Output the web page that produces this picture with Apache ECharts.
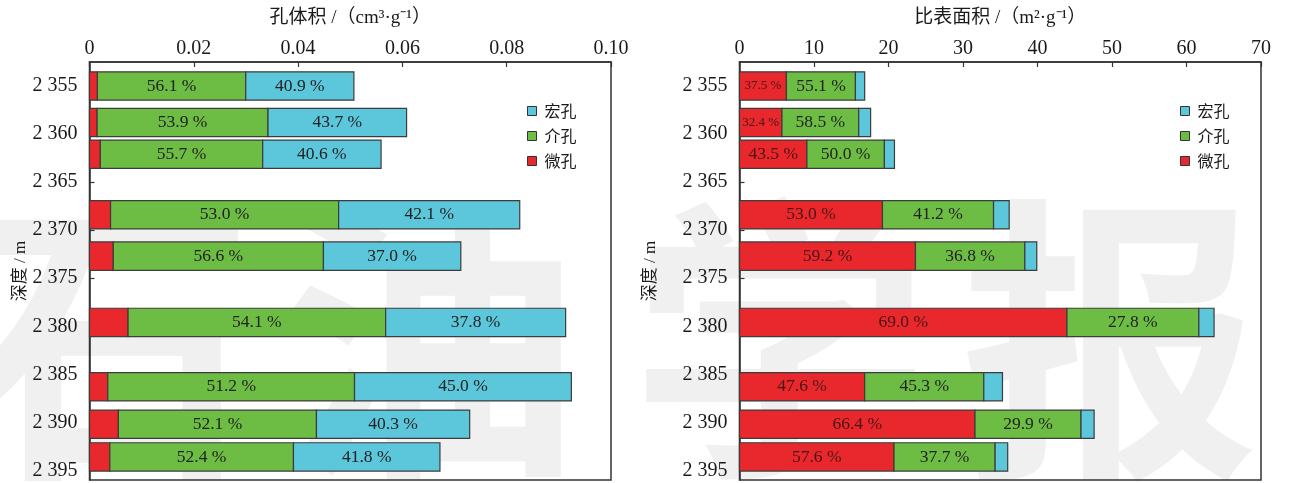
<!DOCTYPE html>
<html>
<head>
<meta charset="utf-8">
<script src="https://cdn.jsdelivr.net/npm/echarts@6/dist/echarts.min.js"></script>
<style>html,body{margin:0;padding:0;background:#fff;}#c{width:1290px;height:483px;}</style>
</head>
<body>
<div id="c"></div>
<script>
// Depths (m) of each sample bar
const depths = [2355, 2358.8, 2362.1, 2368.4, 2372.7, 2379.6, 2386.3, 2390.2, 2393.6];
const depthTicks = [2355, 2360, 2365, 2370, 2375, 2380, 2385, 2390, 2395];
const seriesNames = ['微孔', '介孔', '宏孔'];
const legendNames = ['宏孔', '介孔', '微孔'];

// Pore volume (cm3/g) segments
const volMicro = [0.00152, 0.00146, 0.00207, 0.00404, 0.00456, 0.00740, 0.00351, 0.00554, 0.00390];
const volMeso  = [0.02844, 0.03277, 0.03114, 0.04373, 0.04030, 0.04939, 0.04731, 0.03798, 0.03521];
const volMacro = [0.02074, 0.02657, 0.02270, 0.03473, 0.02634, 0.03451, 0.04158, 0.02938, 0.02809];
const volMesoPct  = ['56.1', '53.9', '55.7', '53.0', '56.6', '54.1', '51.2', '52.1', '52.4'];
const volMacroPct = ['40.9', '43.7', '40.6', '42.1', '37.0', '37.8', '45.0', '40.3', '41.8'];

// Specific surface area (m2/g) segments
const areaMicro = [6.30, 5.70, 9.05, 19.19, 23.62, 43.95, 16.80, 31.61, 20.74];
const areaMeso  = [9.26, 10.30, 10.40, 14.91, 14.68, 17.71, 15.99, 14.23, 13.57];
const areaMacro = [1.24, 1.60, 1.35, 2.10, 1.60, 2.04, 2.51, 1.76, 1.69];
const areaMicroPct = ['37.5', '32.4', '43.5', '53.0', '59.2', '69.0', '47.6', '66.4', '57.6'];
const areaMesoPct  = ['55.1', '58.5', '50.0', '41.2', '36.8', '27.8', '45.3', '29.9', '37.7'];

const colors = {'微孔': '#e8282c', '介孔': '#6dbd45', '宏孔': '#5cc6da'};
const labelColors = {'微孔': '#4a1414', '介孔': '#222222', '宏孔': '#222222'};
const serif = '"Liberation Serif", "Noto Sans CJK SC", serif';
const BAR_H = 2.95;

function buildSeries(gridIdx, segs, labels) {
  const out = [];
  let starts = depths.map(() => 0);
  segs.forEach((seg, si) => {
    const name = seriesNames[si];
    const data = seg.map((v, i) => {
      const s = starts[i];
      starts[i] = s + v;
      return [s, s + v, depths[i], labels[si] ? labels[si][i] + ' %' : ''];
    });
    out.push({
      type: 'custom',
      name: name,
      xAxisIndex: gridIdx,
      yAxisIndex: gridIdx,
      itemStyle: {color: colors[name]},
      encode: {x: [0, 1], y: 2},
      data: data,
      renderItem: function (params, api) {
        const s = api.value(0), e = api.value(1), d = api.value(2);
        const p0 = api.coord([s, d]);
        const p1 = api.coord([e, d]);
        const h = api.size([0, BAR_H])[1];
        const w = p1[0] - p0[0];
        const txt = data[params.dataIndex][3];
        const fs = w < 60 ? 13 : 17.5;
        return {
          type: 'rect',
          shape: {x: p0[0], y: p0[1] - h / 2, width: w, height: h},
          style: {fill: colors[name], stroke: '#3c3c3c', lineWidth: 1.2},
          textContent: txt ? {
            style: {text: txt, fill: labelColors[name], fontSize: fs, fontFamily: serif}
          } : undefined,
          textConfig: {position: 'inside'}
        };
      }
    });
  });
  return out;
}

const gridTop = 62;
const gridH = 418;
const gridW = 521.5;
const lefts = [89.5, 739.5];

function xAxisFor(idx, max, interval, fmt, title) {
  return {
    type: 'value', gridIndex: idx, position: 'top', min: 0, max: max, interval: interval,
    name: title, nameLocation: 'middle', nameGap: 34,
    nameTextStyle: {fontSize: 19, color: '#1a1a1a', fontFamily: serif},
    axisLine: {show: true, onZero: false, lineStyle: {color: '#333', width: 1.5}},
    axisTick: {show: true, inside: true, length: 5, lineStyle: {color: '#333', width: 1.2}},
    axisLabel: {fontSize: 20, color: '#1a1a1a', fontFamily: serif, margin: 3, formatter: fmt},
    splitLine: {show: false}
  };
}
function yAxisFor(idx, gap) {
  return {
    type: 'value', gridIndex: idx, inverse: true, min: 2352.5, max: 2396,
    name: '深度 / m', nameLocation: 'middle', nameGap: gap, nameRotate: 90,
    nameTextStyle: {fontSize: 17, color: '#1a1a1a', fontFamily: serif},
    axisLine: {show: true, onZero: false, lineStyle: {color: '#333', width: 1.5}},
    axisTick: {show: true, inside: true, length: 5, customValues: depthTicks, lineStyle: {color: '#333', width: 1.2}},
    axisLabel: {fontSize: 20, color: '#1a1a1a', fontFamily: serif, margin: 12, customValues: depthTicks,
      formatter: v => { const s = String(Math.round(v)); return s[0] + ' ' + s.slice(1); }},
    splitLine: {show: false}
  };
}

function legendFor(left) {
  return {
    orient: 'vertical', left: left, top: 98, itemWidth: 9, itemHeight: 9, itemGap: 9,
    icon: 'rect', data: legendNames, selectedMode: false,
    itemStyle: {borderColor: '#333', borderWidth: 1},
    textStyle: {fontSize: 16, color: '#1a1a1a', fontFamily: '"Noto Sans CJK SC", sans-serif', padding: [0, 0, 0, 3]}
  };
}

const wm = ['石', '油', '学', '报'];
const wmX = [105, 430, 780, 1110];
const option = {
  animation: false,
  backgroundColor: '#ffffff',
  graphic: wm.map((c, i) => ({
    type: 'text', left: wmX[i] - 150, top: 190, z: -10, silent: true,
    style: {text: c, fontSize: 300, fontWeight: 'bold', fill: '#f0f0f0', fontFamily: '"Noto Sans CJK SC", sans-serif'}
  })),
  grid: lefts.map(l => ({left: l, top: gridTop, width: gridW, height: gridH, show: true,
    borderColor: '#333', borderWidth: 1.5, backgroundColor: 'transparent'})),
  legend: [legendFor(522), legendFor(1175)],
  xAxis: [
    xAxisFor(0, 0.1, 0.02, v => v === 0 ? '0' : v.toFixed(2), '孔体积 /（cm³·g⁻¹）'),
    xAxisFor(1, 70, 10, v => String(v), '比表面积 /（m²·g⁻¹）')
  ],
  yAxis: [yAxisFor(0, 60), yAxisFor(1, 80)],
  series: [].concat(
    buildSeries(0, [volMicro, volMeso, volMacro], [null, volMesoPct, volMacroPct]),
    buildSeries(1, [areaMicro, areaMeso, areaMacro], [areaMicroPct, areaMesoPct, null])
  )
};
const chart = echarts.init(document.getElementById('c'), null, {renderer: 'canvas'});
chart.setOption(option);
</script>
</body>
</html>
